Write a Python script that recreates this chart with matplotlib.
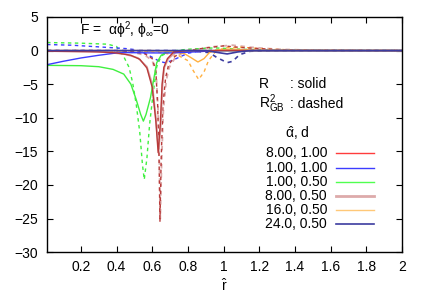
import matplotlib
matplotlib.use("Agg")
import matplotlib.pyplot as plt

plt.rcParams["font.family"] = ["Liberation Sans", "DejaVu Sans"]
plt.rcParams["mathtext.fontset"] = "custom"
plt.rcParams["mathtext.rm"] = "Liberation Sans"
plt.rcParams["mathtext.it"] = "Liberation Sans"
plt.rcParams["mathtext.default"] = "regular"
plt.rcParams["font.size"] = 10

labels = ["8.00, 1.00", "1.00, 1.00", "1.00, 0.50", "8.00, 0.50", "16.0, 0.50", "24.0, 0.50"]
legend_colors = ["#ff3c3c", "#3c3cff", "#50ff50", "#ddaaaa", "#ffc878", "#3c3ca0"]
curve_colors = ["#b83a3a", "#3c3cff", "#40f040", "#dcaaaa", "#ffb040", "#3c3ca0"]
legend_widths = [1.0, 1.0, 1.0, 2.0, 1.0, 1.2]
widths = [1.0, 1.0, 1.0, 1.3, 1.0, 1.2]
draw_order = [3, 2, 4, 1, 0, 5]

# R (solid) curves
r_x = [
    [0.01, 0.3, 0.4, 0.48, 0.53, 0.57, 0.6, 0.62, 0.633, 0.645, 0.655, 0.665, 0.685, 0.72, 0.8, 2.0],
    [0.01, 0.1, 0.2, 0.3, 0.4, 0.45, 0.6, 0.7, 0.8, 0.9, 1.0, 2.0],
    [0.01, 0.2, 0.3, 0.38, 0.44, 0.48, 0.51, 0.535, 0.55, 0.565, 0.59, 0.61, 0.625, 0.65, 0.68, 0.75, 2.0],
    [0.01, 0.25, 0.35, 0.45, 0.52, 0.57, 0.6, 0.62, 0.636, 0.648, 0.658, 0.668, 0.69, 0.73, 0.8, 2.0],
    [0.01, 0.6, 0.7, 0.78, 0.82, 0.856, 0.89, 0.92, 0.96, 1.05, 1.2, 2.0],
    [0.01, 0.9, 0.97, 1.02, 1.08, 1.15, 2.0],
]
r_y = [
    [-0.1, -0.2, -0.35, -0.7, -1.3, -2.6, -5.5, -10.5, -15.2, -11.0, -5.0, -2.5, -1.2, -0.2, 0.0, 0.0],
    [-2.1, -1.6, -1.1, -0.7, -0.35, -0.3, -0.35, -0.35, -0.25, -0.1, 0.0, 0.0],
    [-2.2, -2.25, -2.4, -2.8, -3.5, -5.0, -7.3, -9.5, -10.5, -9.5, -7.0, -4.0, -1.8, -0.7, -0.2, 0.0, 0.0],
    [-0.05, -0.1, -0.25, -0.55, -1.1, -2.4, -5.0, -10.0, -15.0, -11.0, -5.0, -2.5, -1.2, -0.3, 0.0, 0.0],
    [0.0, 0.0, -0.1, -0.45, -1.1, -1.7, -1.2, -0.3, 0.1, 0.2, 0.05, 0.0],
    [0.0, 0.0, -0.3, -0.5, -0.2, 0.0, 0.0],
]

# R_GB^2 (dashed) curves
g_x = [
    [0.01, 0.4, 0.5, 0.56, 0.6, 0.62, 0.63, 0.638, 0.643, 0.65, 0.66, 0.675, 0.69, 0.72, 0.76, 0.8, 0.9, 1.0, 1.1, 1.3, 1.5, 2.0],
    [0.01, 0.15, 0.3, 0.45, 0.5, 0.55, 0.6, 0.64, 0.67, 0.71, 0.75, 0.8, 0.86, 0.95, 1.1, 2.0],
    [0.01, 0.2, 0.35, 0.4, 0.44, 0.47, 0.49, 0.51, 0.53, 0.545, 0.555, 0.57, 0.585, 0.605, 0.625, 0.65, 0.7, 0.8, 0.95, 1.1, 1.3, 2.0],
    [0.01, 0.4, 0.5, 0.56, 0.6, 0.622, 0.633, 0.64, 0.645, 0.652, 0.662, 0.678, 0.695, 0.73, 0.78, 0.85, 0.95, 1.05, 1.15, 1.3, 1.5, 2.0],
    [0.01, 0.55, 0.65, 0.75, 0.8, 0.83, 0.86, 0.89, 0.915, 0.95, 1.0, 1.1, 1.25, 1.5, 2.0],
    [0.01, 0.8, 0.92, 0.96, 1.02, 1.05, 1.09, 1.15, 1.3, 2.0],
]
g_y = [
    [0.0, 0.0, -0.2, -0.5, -1.2, -3.0, -8.0, -16.0, -25.5, -16.0, -8.0, -4.0, -2.3, -1.0, -0.3, 0.0, 0.4, 0.7, 0.45, 0.15, 0.05, 0.0],
    [0.9, 0.8, 0.55, 0.3, 0.15, -0.3, -1.0, -1.6, -1.8, -1.5, -1.0, -0.4, -0.1, 0.1, 0.05, 0.0],
    [1.2, 1.1, 0.95, 0.6, -0.9, -2.5, -4.8, -8.0, -12.2, -17.0, -19.2, -16.0, -11.0, -6.3, -2.4, -0.8, -0.1, 0.2, 0.4, 0.2, 0.05, 0.0],
    [0.0, -0.05, -0.3, -0.7, -1.5, -3.5, -9.0, -17.0, -25.0, -17.0, -9.0, -4.5, -2.5, -1.0, -0.2, 0.2, 0.6, 0.8, 0.5, 0.2, 0.05, 0.0],
    [0.0, -0.1, -0.3, -0.8, -1.5, -3.0, -4.3, -3.2, -1.5, -0.3, 0.4, 0.5, 0.2, 0.05, 0.0],
    [0.0, 0.0, -0.3, -1.0, -1.8, -1.6, -0.6, -0.1, 0.0, 0.0],
]

xticks = [0.2, 0.4, 0.6, 0.8, 1.0, 1.2, 1.4, 1.6, 1.8, 2.0]
xtick_labels = ["0.2", "0.4", "0.6", "0.8", "1", "1.2", "1.4", "1.6", "1.8", "2"]
yticks = [-30, -25, -20, -15, -10, -5, 0, 5]

fig = plt.figure(figsize=(4.26, 2.98), dpi=100)
ax = fig.add_axes([0.1096, 0.154, 0.834, 0.789])

for i in draw_order:
    ax.plot(g_x[i], g_y[i], color=curve_colors[i], lw=widths[i],
            linestyle=(0, (2.5, 2.5)))
for i in draw_order:
    ax.plot(r_x[i], r_y[i], color=curve_colors[i], lw=widths[i])

ax.set_xlim(0.008, 2.0)
ax.set_ylim(-30, 5)
ax.set_xticks(xticks)
ax.set_xticklabels(xtick_labels)
ax.set_yticks(yticks)
ax.tick_params(direction="in", top=True, right=True, length=4, width=0.8,
               labelsize=10, pad=6)
for s in ax.spines.values():
    s.set_linewidth(1.0)

ax.set_xlabel(r"$\hat{r}$", fontsize=10, labelpad=2)

ax.text(0.094, 0.925, r"F =  $\alpha\phi^2$, $\phi_\infty$=0", transform=ax.transAxes,
        va="baseline")
ax.text(0.597, 0.698, "R", transform=ax.transAxes, va="baseline")
ax.text(0.685, 0.698, ": solid", transform=ax.transAxes, va="baseline")
ax.text(0.597, 0.613, r"R$^2_{GB}$", transform=ax.transAxes, va="baseline")
ax.text(0.685, 0.613, ": dashed", transform=ax.transAxes, va="baseline")
ax.text(0.706, 0.487, r"$\hat{\alpha}$, d", transform=ax.transAxes,
        va="baseline", ha="center")

# key: labels right-aligned, sample line to the right
row_y = 0.42
for lab, c, w in zip(labels, legend_colors, legend_widths):
    ax.text(0.789, row_y, lab, transform=ax.transAxes, ha="right", va="center")
    ax.plot([0.814, 0.921], [row_y, row_y], transform=ax.transAxes, color=c, lw=w)
    row_y -= 0.0605

fig.savefig("out.png", dpi=100)
